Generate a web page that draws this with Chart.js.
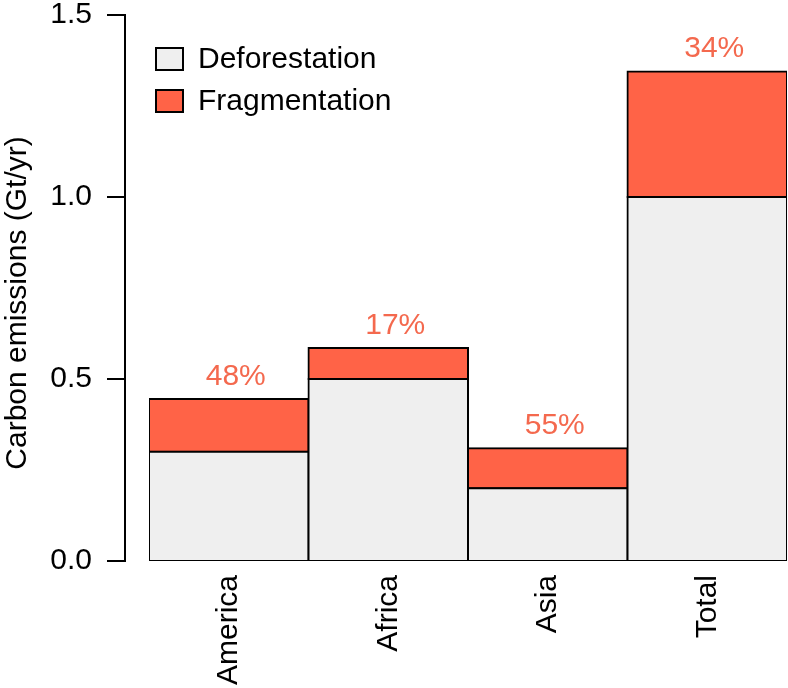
<!DOCTYPE html>
<html>
<head>
<meta charset="utf-8">
<script src="https://cdn.jsdelivr.net/npm/chart.js@4.4.0/dist/chart.umd.min.js"></script>
<style>
  html, body { margin: 0; padding: 0; background: #fff; }
  #wrap { width: 788px; height: 688px; }
</style>
</head>
<body>
<div id="wrap"><canvas id="chart"></canvas></div>
<script>
const regions = ['America', 'Africa', 'Asia', 'Total'];
const deforestation = [0.30, 0.50, 0.20, 1.00];
const fragmentation = [0.145, 0.085, 0.11, 0.345];
const shareLabels = ['48%', '17%', '55%', '34%'];
const yTicks = [0, 0.5, 1.0, 1.5];
const yTitle = 'Carbon emissions (Gt/yr)';

const FONT = '"Liberation Sans", Helvetica, Arial, sans-serif';
const GREY = '#efefef';
const RED = '#ff6347';
const LABEL_RED = '#f4694e';

// left axis drawn a little away from the bars, like base R
const detachedAxis = {
  id: 'detachedAxis',
  afterDraw(chart) {
    const ctx = chart.ctx;
    const y = chart.scales.y;
    const x0 = chart.chartArea.left - 24;
    ctx.save();
    ctx.strokeStyle = '#000';
    ctx.lineWidth = 2;
    ctx.beginPath();
    ctx.moveTo(x0, y.getPixelForValue(yTicks[0]) + 1);
    ctx.lineTo(x0, y.getPixelForValue(yTicks[yTicks.length - 1]) - 1);
    yTicks.forEach(v => {
      const py = y.getPixelForValue(v);
      ctx.moveTo(x0 + 1, py);
      ctx.lineTo(x0 - 18, py);
    });
    ctx.stroke();

    // axis title sits a bit below the middle of the axis
    ctx.font = '30px ' + FONT;
    ctx.fillStyle = '#000';
    ctx.textAlign = 'center';
    ctx.textBaseline = 'middle';
    ctx.translate(18, (y.top + y.bottom) / 2 + 15);
    ctx.rotate(-Math.PI / 2);
    ctx.fillText(yTitle, 0, 0);
    ctx.restore();
  }
};

// percentage above each stack
const shareText = {
  id: 'shareText',
  afterDatasetsDraw(chart) {
    const ctx = chart.ctx;
    const meta = chart.getDatasetMeta(1);
    ctx.save();
    ctx.font = '30px ' + FONT;
    ctx.fillStyle = LABEL_RED;
    ctx.textAlign = 'center';
    ctx.textBaseline = 'alphabetic';
    meta.data.forEach((bar, i) => {
      ctx.fillText(shareLabels[i], bar.x + 7, bar.y - 14);
    });
    ctx.restore();
  }
};

// stacked legend in the top left corner of the plot
const boxLegend = {
  id: 'boxLegend',
  afterDraw(chart) {
    const ctx = chart.ctx;
    const { left, top } = chart.chartArea;
    ctx.save();
    ctx.font = '30px ' + FONT;
    ctx.textBaseline = 'middle';
    ctx.lineWidth = 2;
    chart.data.datasets.forEach((ds, i) => {
      const bx = left + 7;
      const by = top + 33 + i * 42;
      ctx.fillStyle = ds.backgroundColor;
      ctx.fillRect(bx, by, 27, 22);
      ctx.strokeStyle = '#000';
      ctx.strokeRect(bx, by, 27, 22);
      ctx.fillStyle = '#000';
      ctx.fillText(ds.label, bx + 42, by + 12);
    });
    ctx.restore();
  }
};

new Chart(document.getElementById('chart'), {
  type: 'bar',
  data: {
    labels: regions,
    datasets: [
      { label: 'Deforestation', data: deforestation, backgroundColor: GREY },
      { label: 'Fragmentation', data: fragmentation, backgroundColor: RED }
    ]
  },
  options: {
    responsive: true,
    maintainAspectRatio: false,
    animation: false,
    datasets: {
      bar: {
        borderColor: '#000',
        borderWidth: 2,
        borderSkipped: false,
        inflateAmount: 1,
        categoryPercentage: 1,
        barPercentage: 1
      }
    },
    layout: { padding: { top: 15, right: 1, left: 0, bottom: 0 } },
    plugins: {
      legend: { display: false },
      tooltip: { enabled: false }
    },
    scales: {
      x: {
        stacked: true,
        grid: { display: false, drawTicks: false },
        border: { display: false },
        ticks: {
          minRotation: 90,
          maxRotation: 90,
          padding: 14,
          color: '#000',
          font: { family: FONT, size: 30 }
        },
        afterFit(s) { s.height = 127; }
      },
      y: {
        stacked: true,
        min: 0,
        max: 1.5,
        grid: { display: false, drawTicks: true, tickLength: 57 },
        border: { display: false },
        ticks: {
          stepSize: 0.5,
          padding: 0,
          color: '#000',
          font: { family: FONT, size: 30, lineHeight: 1 },
          callback: v => v.toFixed(1)
        },
        afterFit(s) { s.width = 149; }
      }
    }
  },
  plugins: [detachedAxis, shareText, boxLegend]
});
</script>
</body>
</html>
